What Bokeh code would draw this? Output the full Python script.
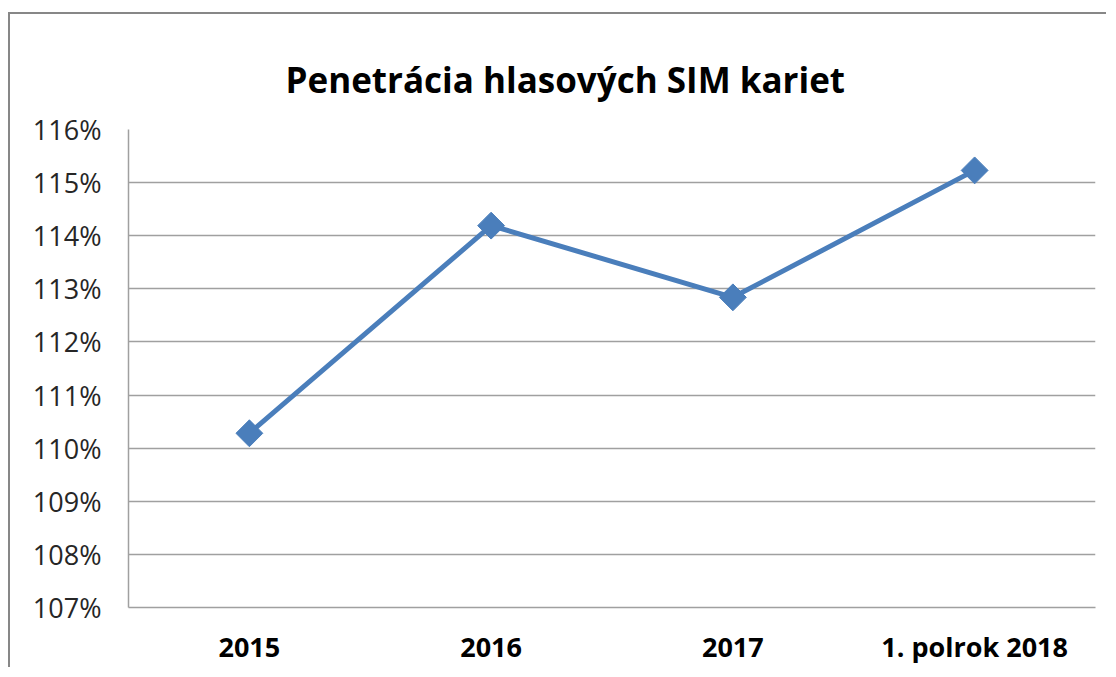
from bokeh.plotting import figure
from bokeh.models import FactorRange, Range1d, FixedTicker, NumeralTickFormatter, ColumnDataSource
from bokeh.embed import file_html
from bokeh.resources import INLINE
import math

title_text = "Penetrácia hlasových SIM kariet"
categories = ["2015", "2016", "2017", "1. polrok 2018"]
values = [1.1028, 1.1419, 1.1284, 1.1523]
y_ticks = [1.07, 1.08, 1.09, 1.10, 1.11, 1.12, 1.13, 1.14, 1.15, 1.16]

src = ColumnDataSource(dict(x=categories, y=values))

p = figure(
    x_range=FactorRange(*categories, range_padding=0),
    y_range=Range1d(1.07, 1.16),
    width=1098, height=655,
    output_backend="svg", toolbar_location=None,
    min_border_left=118, min_border_right=13, min_border_top=115, min_border_bottom=62,
    title=title_text,
)
p.styles = {"border-left": "2px solid #878787", "border-top": "2px solid #878787",
            "margin-top": "12px", "margin-left": "8px"}
p.outline_line_color = None
p.background_fill_color = "white"
p.border_fill_color = "white"

p.title.align = "left"
p.title.offset = 157
p.title.text_font = "Open Sans"
p.title.text_font_style = "bold"
p.title.text_font_size = "35px"
p.title.text_color = "#000000"
p.title.vertical_align = "top"
p.title.standoff = 50

p.xgrid.grid_line_color = None
p.ygrid.grid_line_color = "#a0a0a0"
p.ygrid.grid_line_width = 1.5
p.yaxis.ticker = FixedTicker(ticks=y_ticks)
p.yaxis.formatter = NumeralTickFormatter(format="0%")

for ax in (p.xaxis[0], p.yaxis[0]):
    ax.axis_line_color = "#a0a0a0"
    ax.axis_line_width = 1.5
    ax.major_tick_line_color = None
    ax.minor_tick_line_color = None
    ax.major_tick_out = 0
    ax.major_tick_in = 0
    ax.major_label_text_font = "Open Sans"
    ax.major_label_text_color = "#262626"

p.yaxis.major_label_text_font_size = "27px"
p.yaxis.major_label_standoff = 27
p.xaxis.major_label_text_font_size = "27px"
p.xaxis.major_label_text_font_style = "bold"
p.xaxis.major_label_text_color = "#000000"
p.xaxis.major_label_standoff = 20

p.line("x", "y", source=src, line_color="#4a7ebb", line_width=5)
p.scatter("x", "y", source=src, marker="square", size=19, angle=math.pi / 4,
          fill_color="#4a7ebb", line_color="#4a7ebb")

open("out.html", "w").write(file_html(p, INLINE))
